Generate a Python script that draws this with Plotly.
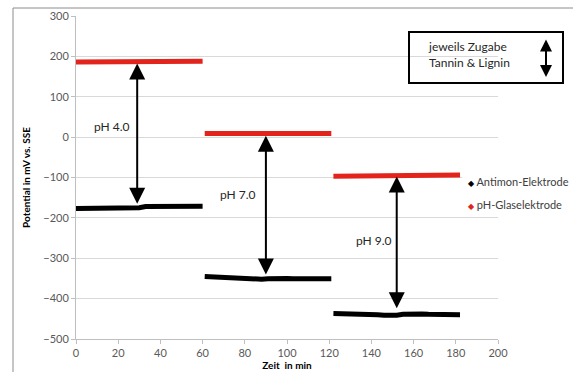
import plotly.graph_objects as go

# ---- data ----
time_a = [0, 3, 6, 9, 12, 15, 18, 21, 24, 27, 30, 33, 36, 39, 42, 45, 48, 51, 54, 57, 60]
time_b = [61, 64, 67, 70, 73, 76, 79, 82, 85, 88, 91, 94, 97, 100, 103, 106, 109, 112, 115, 118, 121]
time_c = [122, 125, 128, 131, 134, 137, 140, 143, 146, 149, 152, 155, 158, 161, 164, 167, 170, 173, 176, 179, 182]

antimon_a = [-177, -177, -178, -177, -177, -178, -177, -177, -178, -177, -175, -172, -172, -171, -172, -171, -171, -172, -171, -171, -171]
antimon_b = [-345, -346, -347, -348, -349, -350, -350, -351, -351, -352, -351, -350, -350, -350, -351, -350, -351, -351, -351, -351, -351]
antimon_c = [-437, -437, -438, -438, -439, -439, -440, -440, -441, -442, -441, -439, -438, -438, -438, -439, -439, -439, -440, -440, -440]

glas_a = [186, 186, 186, 186, 186, 186, 186, 186, 186, 187, 187, 187, 187, 187, 187, 187, 187, 187, 188, 188, 188]
glas_b = [9, 9, 9, 8, 8, 8, 8, 8, 8, 8, 9, 9, 9, 9, 9, 9, 9, 9, 9, 9, 9]
glas_c = [-97, -97, -97, -97, -97, -97, -96, -96, -96, -95, -94, -95, -96, -96, -96, -96, -95, -95, -95, -95, -94]

series_names = ["Antimon-Elektrode", "pH-Glaselektrode"]
ph_labels = ["pH 4.0", "pH 7.0", "pH 9.0"]
ph_label_x = [17, 77, 141]
ph_label_y = [26, -143, -257]
arrow_x = [29, 90, 152]
arrow_top = [186, 7, -94]
arrow_bottom = [-165, -340, -424]

x_ticks = [0, 20, 40, 60, 80, 100, 120, 140, 160, 180, 200]
y_ticks = [300, 200, 100, 0, -100, -200, -300, -400, -500]

FONT = "Lato, 'Open Sans', sans-serif"
GRAY = "#595959"
RED = "#e3241d"

# plot-area geometry helpers (pixels of the 573x372 page -> paper coords)
L, R, T, B = 76, 498, 16, 339
def px(xp):
    return (xp - L) / (R - L)
def py(yp):
    return (B - yp) / (B - T)

def joined(*parts):
    out = []
    for i, p in enumerate(parts):
        if i:
            out.append(None)
        out.extend(p)
    return out

fig = go.Figure()

fig.add_trace(go.Scatter(x=joined(time_a, time_b, time_c), y=joined(antimon_a, antimon_b, antimon_c),
                         mode="lines", line=dict(color="black", width=5), showlegend=False,
                         name=series_names[0]))
fig.add_trace(go.Scatter(x=joined(time_a, time_b, time_c), y=joined(glas_a, glas_b, glas_c),
                         mode="lines", line=dict(color=RED, width=5), showlegend=False,
                         name=series_names[1]))

annotations = []
for lab, lx, ly in zip(ph_labels, ph_label_x, ph_label_y):
    annotations.append(dict(x=lx, y=ly, xref="x", yref="y", text=lab, showarrow=False,
                            font=dict(family=FONT, size=12, color="#262626")))
for ax_, top, bot in zip(arrow_x, arrow_top, arrow_bottom):
    annotations.append(dict(x=ax_, y=bot, xref="x", yref="y", ax=ax_, ay=top, axref="x", ayref="y",
                            text="", showarrow=True, arrowhead=2, startarrowhead=2,
                            arrowside="end+start", arrowsize=1.6, startarrowsize=1.6,
                            arrowwidth=2, arrowcolor="black"))

# legend drawn as text with coloured diamond markers
legend_colors = ["black", RED]
legend_y = [182, 204]
for name, col, ly in zip(series_names, legend_colors, legend_y):
    annotations.append(dict(x=px(466), y=py(ly), xref="paper", yref="paper", xanchor="left",
                            yanchor="middle", showarrow=False,
                            text=f"<span style='color:{col};font-size:8px'>◆</span> {name}",
                            font=dict(family=FONT, size=11, color="#404040")))

# info box text and arrow
annotations.append(dict(x=px(426), y=py(54), xref="paper", yref="paper", xanchor="left",
                        yanchor="middle", align="left", showarrow=False,
                        text="jeweils Zugabe<br>Tannin & Lignin",
                        font=dict(family=FONT, size=12, color="#262626")))
annotations.append(dict(x=px(546), y=py(77), xref="paper", yref="paper",
                        ax=0, ay=-39, axref="pixel", ayref="pixel",
                        text="", showarrow=True, arrowhead=2, startarrowhead=2,
                        arrowside="end+start", arrowsize=1.2, startarrowsize=1.2,
                        arrowwidth=2, arrowcolor="black"))

shapes = [
    # outer chart border
    dict(type="rect", xref="paper", yref="paper", x0=px(13), x1=1.3, y0=-0.3, y1=py(8),
         line=dict(color="#8c8c8c", width=1), fillcolor="rgba(0,0,0,0)", layer="above"),
    # info box
    dict(type="rect", xref="paper", yref="paper",
         x0=px(409), x1=px(563), y0=py(83), y1=py(32),
         line=dict(color="black", width=2), fillcolor="rgba(0,0,0,0)", layer="above"),
    # legend background hiding grid line
    dict(type="rect", xref="x", yref="y", x0=183, x1=201, y0=-108, y1=-92,
         line=dict(width=0), fillcolor="white", layer="between"),
]

fig.update_layout(
    width=573, height=372,
    margin=dict(l=L, r=573 - R, t=T, b=372 - B, autoexpand=False),
    paper_bgcolor="white", plot_bgcolor="white",
    font=dict(family=FONT, size=11, color=GRAY),
    showlegend=False,
    annotations=annotations,
    shapes=shapes,
    xaxis=dict(range=[0, 200], tickvals=x_ticks, showgrid=False, zeroline=False, automargin=False,
               showline=True, linecolor="#bfbfbf", ticks="outside", ticklen=4, tickcolor="#bfbfbf",
               tickfont=dict(family=FONT, size=11, color=GRAY),
               title=dict(text="<b>Zeit  in min</b>", standoff=2,
                          font=dict(family=FONT, size=10, color="black"))),
    yaxis=dict(range=[-500, 300], tickvals=y_ticks, showgrid=True, gridcolor="#d9d9d9", zeroline=False,
               automargin=False,
               showline=True, linecolor="#bfbfbf", ticks="outside", ticklen=4, tickcolor="#bfbfbf",
               tickfont=dict(family=FONT, size=11, color=GRAY),
               title=dict(text="<b>Potential in mV vs. SSE</b>", standoff=10,
                          font=dict(family=FONT, size=10, color="black"))),
)

fig.write_html("out.html")
